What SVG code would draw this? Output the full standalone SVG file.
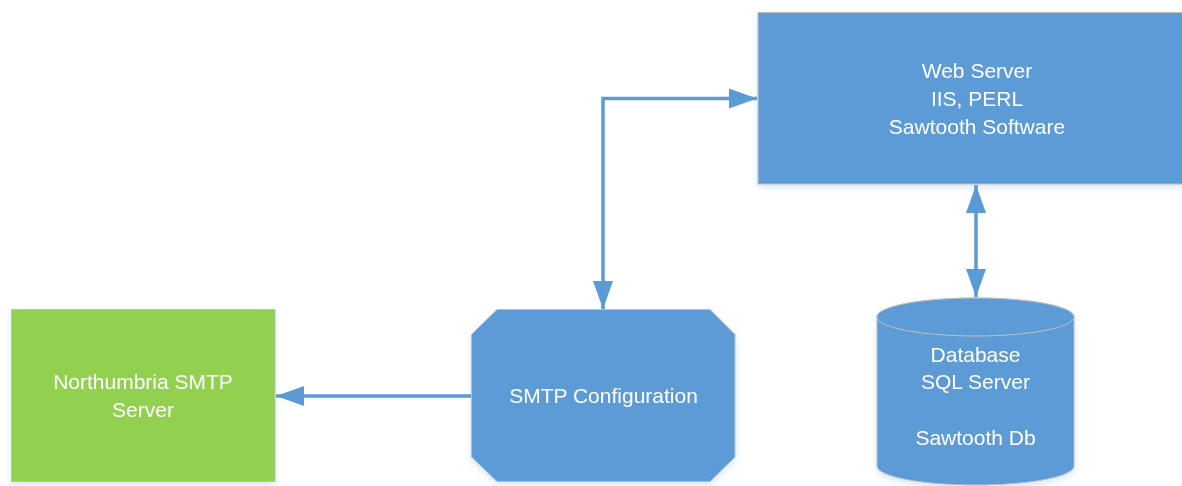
<svg xmlns="http://www.w3.org/2000/svg" width="1182" height="486" viewBox="0 0 1182 486">
<defs>
<style>
.blue{fill:#5B9BD5;stroke:#BFBFBF;stroke-width:1}
.green{fill:#92D050;stroke:#BFBFBF;stroke-width:1}
.lbl{font-family:"Liberation Sans",Arial,sans-serif;font-size:21px;fill:#FFFFFF;text-anchor:middle}
.conn{fill:none;stroke:#5B9BD5;stroke-width:3.5}
</style>
<filter id="sh" x="-10%" y="-10%" width="120%" height="130%">
<feDropShadow dx="0" dy="3" stdDeviation="3" flood-color="#5B9BD5" flood-opacity="0.25"/>
</filter>
<marker id="ah" viewBox="0 0 28 20" refX="28" refY="10" markerWidth="28" markerHeight="20" markerUnits="userSpaceOnUse" orient="auto-start-reverse">
<path d="M0,0 L28,10 L0,20 Z" fill="#5B9BD5"/>
</marker>
</defs>
<rect width="1182" height="486" fill="#FFFFFF"/>
<g id="web-server" filter="url(#sh)">
<rect class="blue" x="758" y="12.5" width="430" height="171.5"/>
<text class="lbl" x="977" y="78">Web Server</text>
<text class="lbl" x="977" y="106">IIS, PERL</text>
<text class="lbl" x="977" y="134">Sawtooth Software</text>
</g>
<g id="northumbria-smtp" filter="url(#sh)">
<rect class="green" x="11.5" y="309.5" width="263.5" height="172"/>
<text class="lbl" x="143" y="389">Northumbria SMTP</text>
<text class="lbl" x="143" y="417">Server</text>
</g>
<g id="smtp-config" filter="url(#sh)">
<polygon class="blue" points="497,309.5 710,309.5 735,334.5 735,457 710,481.5 497,481.5 471.5,457 471.5,334.5"/>
<text class="lbl" x="603.5" y="403">SMTP Configuration</text>
</g>
<g id="database" filter="url(#sh)">
<path class="blue" d="M877,317 L877,466 A98.5,19 0 0 0 1074,466 L1074,317 A98.5,19 0 0 0 877,317 Z"/>
<ellipse class="blue" cx="975.5" cy="317" rx="98.5" ry="19"/>
<text class="lbl" x="975.5" y="362">Database</text>
<text class="lbl" x="975.5" y="389">SQL Server</text>
<text class="lbl" x="975.5" y="445">Sawtooth Db</text>
</g>
<g id="connectors">
<path class="conn" d="M603,309 L603,98.5 L757,98.5" marker-start="url(#ah)" marker-end="url(#ah)"/>
<path class="conn" d="M976,185 L976,297" marker-start="url(#ah)" marker-end="url(#ah)"/>
<path class="conn" d="M471,396 L276,396" marker-end="url(#ah)"/>
</g>
</svg>
